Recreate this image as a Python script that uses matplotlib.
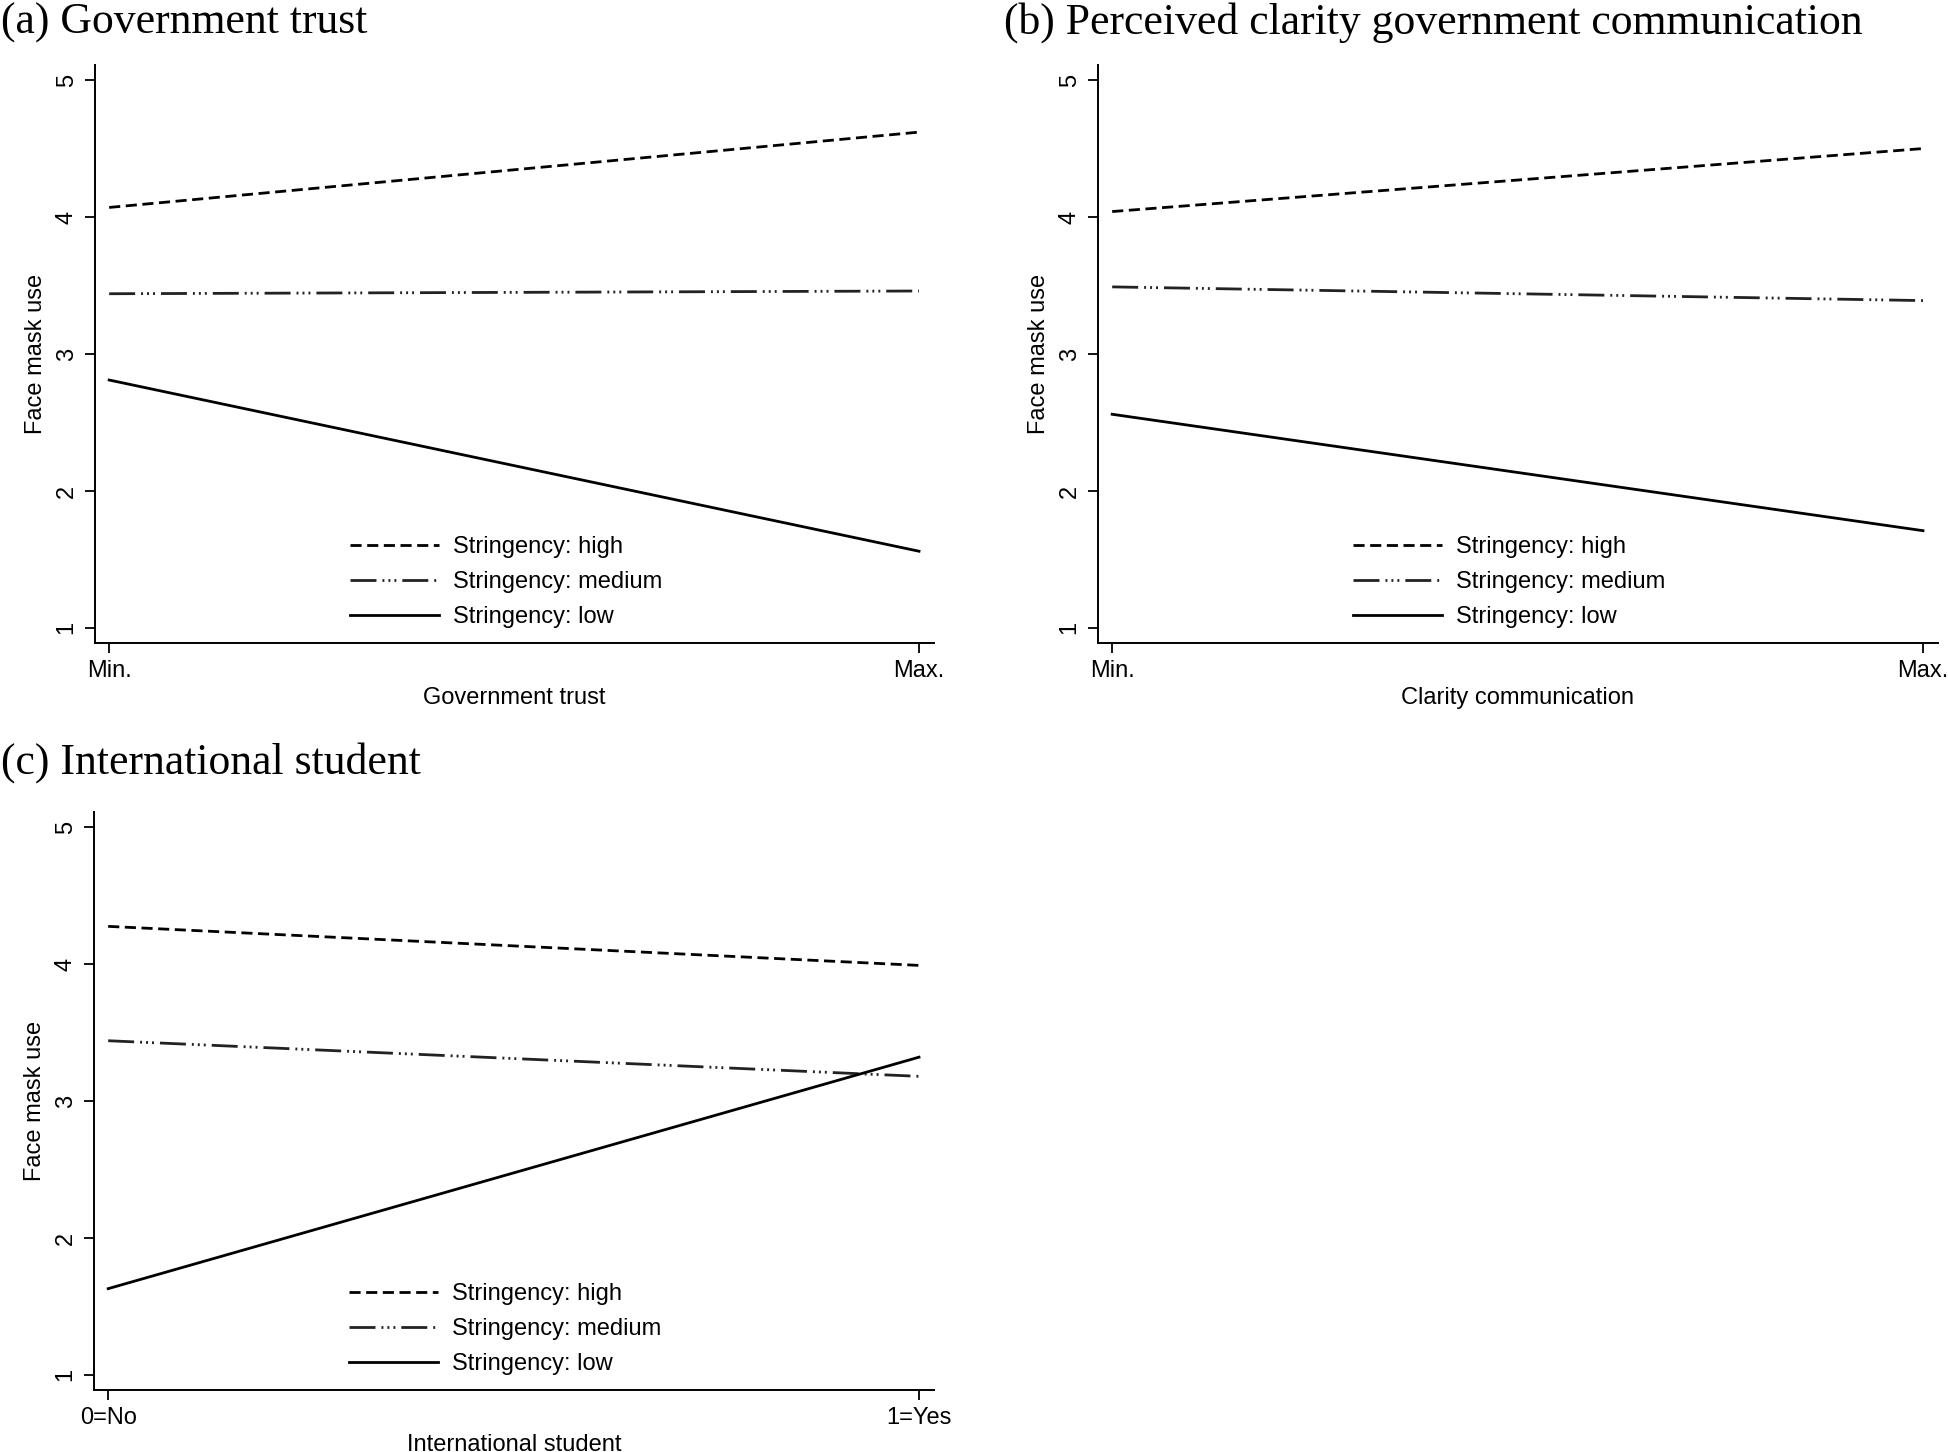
import matplotlib
matplotlib.use("Agg")
import matplotlib.pyplot as plt

# predicted face mask use at the two ends of each moderator
x_ends = [0, 1]
trust_high = [4.07, 4.62]
trust_medium = [3.44, 3.46]
trust_low = [2.81, 1.56]

clarity_high = [4.04, 4.50]
clarity_medium = [3.49, 3.39]
clarity_low = [2.56, 1.71]

intl_high = [4.275, 3.99]
intl_medium = [3.44, 3.18]
intl_low = [1.63, 3.32]

series_labels = ["Stringency: high", "Stringency: medium", "Stringency: low"]
y_ticks = [1, 2, 3, 4, 5]

plt.rcParams["font.family"] = ["Liberation Sans", "DejaVu Sans"]
plt.rcParams["lines.scale_dashes"] = False

W, H = 1949, 1452
fig = plt.figure(figsize=(W / 100, H / 100), dpi=100)

def px_axes(left, right, top, bottom):
    return fig.add_axes([left / W, (H - bottom) / H, (right - left) / W, (bottom - top) / H])

dash_high = (0, (8.0, 4.0))
dash_medium = (0, (18.7, 4.3, 1.4, 2.9, 1.4, 2.9, 1.4, 4.3))

def draw_panel(ax, high, medium, low, xticklabels, xlabel):
    l1, = ax.plot(x_ends, high, color="black", lw=2.0, linestyle=dash_high)
    l2, = ax.plot(x_ends, medium, color="#222222", lw=2.0, linestyle=dash_medium)
    l3, = ax.plot(x_ends, low, color="black", lw=2.0, linestyle="-")
    ax.set_xlim(-0.0175, 1.0185)
    ax.set_ylim(0.89, 5.11)
    ax.set_yticks(y_ticks)
    ax.set_yticklabels([str(t) for t in y_ticks], rotation=90, va="center")
    ax.set_xticks(x_ends)
    ax.set_xticklabels(xticklabels)
    ax.tick_params(direction="out", length=7.5, width=1.3, labelsize=17, pad=5)
    for side in ["top", "right"]:
        ax.spines[side].set_visible(False)
    for side in ["left", "bottom"]:
        ax.spines[side].set_linewidth(1.4)
    ax.set_ylabel("Face mask use", fontsize=17, labelpad=6)
    ax.set_xlabel(xlabel, fontsize=17, labelpad=3)
    ax.legend([l1, l2, l3], series_labels, loc="center left",
              bbox_to_anchor=(0.304, 0.105), frameon=False, fontsize=17,
              handlelength=3.75, handletextpad=0.6, labelspacing=0.55,
              borderpad=0, borderaxespad=0)

ax_a = px_axes(95, 934, 65, 643)
draw_panel(ax_a, trust_high, trust_medium, trust_low, ["Min.", "Max."], "Government trust")

ax_b = px_axes(1098, 1938, 65, 643)
draw_panel(ax_b, clarity_high, clarity_medium, clarity_low, ["Min.", "Max."], "Clarity communication")

ax_c = px_axes(94, 934, 812, 1390)
draw_panel(ax_c, intl_high, intl_medium, intl_low, ["0=No", "1=Yes"], "International student")

title_font = dict(family=["Liberation Serif", "DejaVu Serif"], fontsize=31.5, va="baseline", ha="left")
fig.text(1 / W, 1 - 34 / H, "(a) Government trust", **title_font)
fig.text(1004 / W, 1 - 34 / H, "(b) Perceived clarity government communication", **title_font)
fig.text(1 / W, 1 - 774 / H, "(c) International student", **title_font)

fig.savefig("out.png", dpi=100, facecolor="white")
